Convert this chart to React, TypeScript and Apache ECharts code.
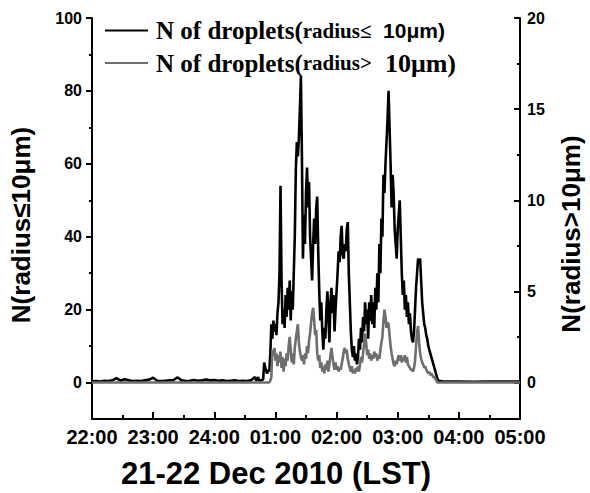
import React, { useEffect, useRef } from "react";
import * as echarts from "echarts";

// x positions are minutes after 22:00 (21 Dec 2010, LST)
const xTickLabels = ["22:00", "23:00", "24:00", "01:00", "02:00", "03:00", "04:00", "05:00"];
const leftTicks = [0, 20, 40, 60, 80, 100];
const leftMinorTicks = [10, 30, 50, 70, 90];
const rightTicks = [0, 5, 10, 15, 20];
const rightMinorTicks = [2.5, 7.5, 12.5, 17.5];

const smallName = "N of droplets(radius≤ 10μm)";
const largeName = "N of droplets(radius> 10μm)";

// quiet period before the fog (every 4 minutes)
const earlyMinutes = [0, 4, 8, 12, 16, 20, 24, 28, 32, 36, 40, 44, 48, 52, 56, 60, 64, 68, 72, 76, 80, 84, 88, 92, 96, 100, 104, 108, 112, 116, 120, 124, 128, 132, 136, 140, 144, 148, 152, 156, 160];
const earlySmall = [0.3, 0.4, 0.3, 0.5, 0.4, 0.6, 1.2, 0.5, 0.9, 0.6, 0.4, 0.5, 0.4, 0.6, 0.8, 1.3, 0.5, 0.4, 0.5, 0.6, 0.7, 1.4, 0.6, 0.4, 0.5, 0.7, 0.5, 0.6, 0.8, 0.6, 0.7, 0.5, 0.6, 0.4, 0.5, 0.6, 0.4, 0.5, 0.4, 0.6, 1.5];
const earlyLarge = [0, 0, 0, 0, 0, 0, 0, 0, 0, 0, 0, 0, 0, 0, 0, 0, 0, 0, 0, 0, 0, 0, 0, 0, 0, 0, 0, 0, 0, 0, 0, 0, 0, 0, 0, 0, 0, 0, 0, 0, 0];

// fog event, one value per minute starting at minute 161
const activeStart = 161;
const activeSmall = [
  0.6, 0.8, 1.5, 0.6, 0.5, 0.7, 0.6, 1.0, 5.5, 4.0,
  3.0, 2.5, 3.5, 3.0, 8.0, 16, 12, 17, 14, 16,
  13, 19, 22, 30, 54, 28, 16, 20, 15, 24,
  18, 26, 20, 28, 17, 25, 20, 30, 40, 58,
  66, 62, 67, 75, 84, 62, 34, 46, 38, 52,
  59, 48, 55, 40, 34, 28, 38, 45, 38, 48,
  51, 36, 25, 17, 22, 14, 9, 15, 12, 20,
  25, 18, 11, 22, 26, 19, 24, 14, 20, 25,
  30, 36, 33, 40, 43, 35, 34, 38, 36, 42,
  44, 30, 22, 14, 9, 7, 10, 6, 8, 5,
  7, 12, 9, 15, 11, 18, 14, 22, 16, 20,
  12, 22, 17, 24, 16, 22, 15, 26, 20, 30,
  22, 38, 30, 45, 40, 57, 52, 60, 66, 72,
  80, 70, 60, 48, 57, 52, 42, 38, 34, 42,
  46, 50, 40, 30, 24, 28, 20, 24, 18, 22,
  16, 19, 14, 12, 11, 14, 20, 26, 30, 34,
  33, 34, 28, 22, 19, 16, 15, 13, 12, 10,
  9, 8, 7, 6, 5, 4, 3, 2, 1, 0.5,
];
const activeLarge = [
  0, 0, 0, 0, 0, 0, 0, 0, 0, 0,
  0, 0, 0, 0, 0.1, 0.3, 1.8, 1.5, 1.9, 1.2,
  1.6, 0.9, 1.5, 1.1, 1.7, 0.8, 1.4, 0.6, 1.3, 0.9,
  1.6, 1.2, 2.0, 2.5, 1.8, 1.1, 1.6, 1.0, 1.9, 2.4,
  2.8, 3.2, 2.2, 1.7, 1.4, 1.2, 1.5, 1.0, 1.6, 1.3,
  2.0, 1.6, 2.3, 2.7, 3.3, 3.8, 4.1, 3.4, 2.6, 2.9,
  1.6, 1.2, 1.5, 0.8, 1.1, 0.6, 0.9, 0.5, 1.0, 0.7,
  1.2, 0.6, 1.0, 1.5, 1.9, 1.4, 1.0, 0.7, 1.1, 0.7,
  0.9, 0.6, 0.8, 0.7, 1.0, 1.3, 1.7, 1.9, 1.6, 1.8,
  1.3, 1.0, 0.8, 0.6, 0.9, 0.5, 0.7, 0.5, 0.8, 0.6,
  0.9, 0.6, 1.0, 1.4, 1.1, 1.6, 2.1, 2.7, 2.2, 1.5,
  1.8, 1.3, 1.6, 1.2, 1.5, 1.3, 1.7, 1.4, 1.6, 1.2,
  1.5, 1.3, 1.8, 2.2, 2.5, 3.4, 4.0, 3.6, 3.0, 3.3,
  3.2, 2.6, 2.0, 1.6, 1.3, 1.0, 0.9, 1.2, 1.0, 1.3,
  1.5, 1.2, 1.5, 1.1, 1.4, 1.2, 1.5, 1.1, 1.4, 1.0,
  0.9, 0.8, 0.7, 0.7, 0.6, 0.8, 1.2, 2.0, 2.8, 3.1,
  2.2, 1.6, 1.3, 1.1, 1.0, 0.8, 0.9, 0.7, 0.6, 0.5,
  0.6, 0.4, 0.5, 0.4, 0.3, 0.3, 0.2, 0.1, 0, 0,
];

// after the fog dissipated
const lateMinutes = [345, 360, 375, 390, 405, 420];
const lateSmall = [0.3, 0.3, 0.2, 0.3, 0.3, 0.3];
const lateLarge = [0, 0, 0, 0, 0, 0];

const SANS = "'Liberation Sans', Arial, sans-serif";
const SERIF = "'Liberation Serif', 'Times New Roman', serif";

function buildSeries(early: number[], active: number[], late: number[]) {
  const pts: [number, number][] = [];
  earlyMinutes.forEach((m, i) => pts.push([m, early[i]]));
  active.forEach((v, i) => pts.push([activeStart + i, v]));
  lateMinutes.forEach((m, i) => pts.push([m, late[i]]));
  return pts;
}

export default function App() {
  const ref = useRef<HTMLDivElement>(null);
  useEffect(() => {
    if (!ref.current) return;
    const chart = echarts.init(ref.current, undefined, { renderer: "svg" });
    const axisLine = { show: true, onZero: false, lineStyle: { color: "#000", width: 2 } };
    const labelStyle = { color: "#000", fontFamily: SANS, fontWeight: "bold" as const, fontSize: 16 };
    chart.setOption({
      animation: false,
      backgroundColor: "#fff",
      grid: { left: 92, right: 70, top: 18, bottom: 74, containLabel: false },
      legend: {
        orient: "vertical",
        left: 100,
        top: 13,
        itemWidth: 43,
        itemHeight: 2,
        itemGap: 7,
        icon: "rect",
        data: [smallName, largeName],
        formatter: (name: string) =>
          name === smallName
            ? "{a|N of droplets(}{b|radius≤}{c|  10μm)}"
            : "{a|N of droplets(}{b|radius>}{d|  10μm)}",
        textStyle: {
          color: "#000",
          rich: {
            a: { fontFamily: SERIF, fontWeight: "bold", fontSize: 25, lineHeight: 28, padding: [0, 0, 0, 3] },
            b: { fontFamily: SERIF, fontWeight: "bold", fontSize: 21, lineHeight: 28 },
            c: { fontFamily: SANS, fontWeight: "bold", fontSize: 21, lineHeight: 28 },
            d: { fontFamily: SERIF, fontWeight: "bold", fontSize: 26, lineHeight: 28 },
          },
        },
      },
      xAxis: {
        type: "value",
        min: 0,
        max: 420,
        interval: 60,
        axisLine,
        axisTick: { show: true, inside: true, length: 7, lineStyle: { color: "#000", width: 2 } },
        minorTick: { show: true, splitNumber: 2, length: 4, lineStyle: { color: "#000", width: 2 } },
        axisLabel: { ...labelStyle, fontSize: 20, margin: 8, formatter: (v: number) => xTickLabels[Math.round(v / 60)] ?? "" },
        splitLine: { show: false },
      },
      yAxis: [
        {
          type: "value",
          position: "left",
          min: -10,
          max: 100,
          axisLine,
          axisTick: { show: true, customValues: leftTicks, length: 6, lineStyle: { color: "#000", width: 2 } },
          axisLabel: { ...labelStyle, customValues: leftTicks, margin: 10 },
          splitLine: { show: false },
        },
        {
          type: "value",
          position: "right",
          min: -2,
          max: 20,
          axisLine,
          axisTick: { show: true, inside: true, customValues: rightTicks, length: 6, lineStyle: { color: "#000", width: 2 } },
          axisLabel: { ...labelStyle, customValues: rightTicks, margin: 7 },
          splitLine: { show: false },
        },
        {
          type: "value",
          position: "left",
          min: -10,
          max: 100,
          axisLine: { show: false, onZero: false },
          axisTick: { show: true, customValues: leftMinorTicks, length: 3, lineStyle: { color: "#000", width: 2 } },
          axisLabel: { show: false },
          splitLine: { show: false },
        },
        {
          type: "value",
          position: "right",
          min: -2,
          max: 20,
          axisLine: { show: false, onZero: false },
          axisTick: { show: true, inside: true, customValues: rightMinorTicks, length: 3, lineStyle: { color: "#000", width: 2 } },
          axisLabel: { show: false },
          splitLine: { show: false },
        },
      ],
      series: [
        {
          name: smallName,
          type: "line",
          yAxisIndex: 0,
          showSymbol: false,
          color: "#000",
          itemStyle: { color: "#000" },
          lineStyle: { color: "#000", width: 2.6 },
          data: buildSeries(earlySmall, activeSmall, lateSmall),
        },
        {
          name: largeName,
          type: "line",
          yAxisIndex: 1,
          showSymbol: false,
          color: "#6e6e6e",
          itemStyle: { color: "#6e6e6e" },
          lineStyle: { color: "#6e6e6e", width: 2.6 },
          data: buildSeries(earlyLarge, activeLarge, lateLarge),
        },
      ],
      graphic: [
        {
          type: "text",
          x: 21,
          y: 225,
          rotation: Math.PI / 2,
          style: { text: "N(radius≤10μm)", fontFamily: SANS, fontWeight: "bold", fontSize: 26, fill: "#000", textAlign: "center", textVerticalAlign: "middle" },
        },
        {
          type: "text",
          x: 571,
          y: 234,
          rotation: Math.PI / 2,
          style: { text: "N(radius>10μm)", fontFamily: SANS, fontWeight: "bold", fontSize: 26, fill: "#000", textAlign: "center", textVerticalAlign: "middle" },
        },
        {
          type: "text",
          x: 276,
          y: 473,
          style: { text: "21-22 Dec 2010 (LST)", fontFamily: SANS, fontWeight: "bold", fontSize: 31, fill: "#000", textAlign: "center", textVerticalAlign: "middle" },
        },
      ],
    });
    return () => chart.dispose();
  }, []);
  return <div ref={ref} style={{ position: "absolute", left: 0, top: 0, width: 590, height: 493 }} />;
}
